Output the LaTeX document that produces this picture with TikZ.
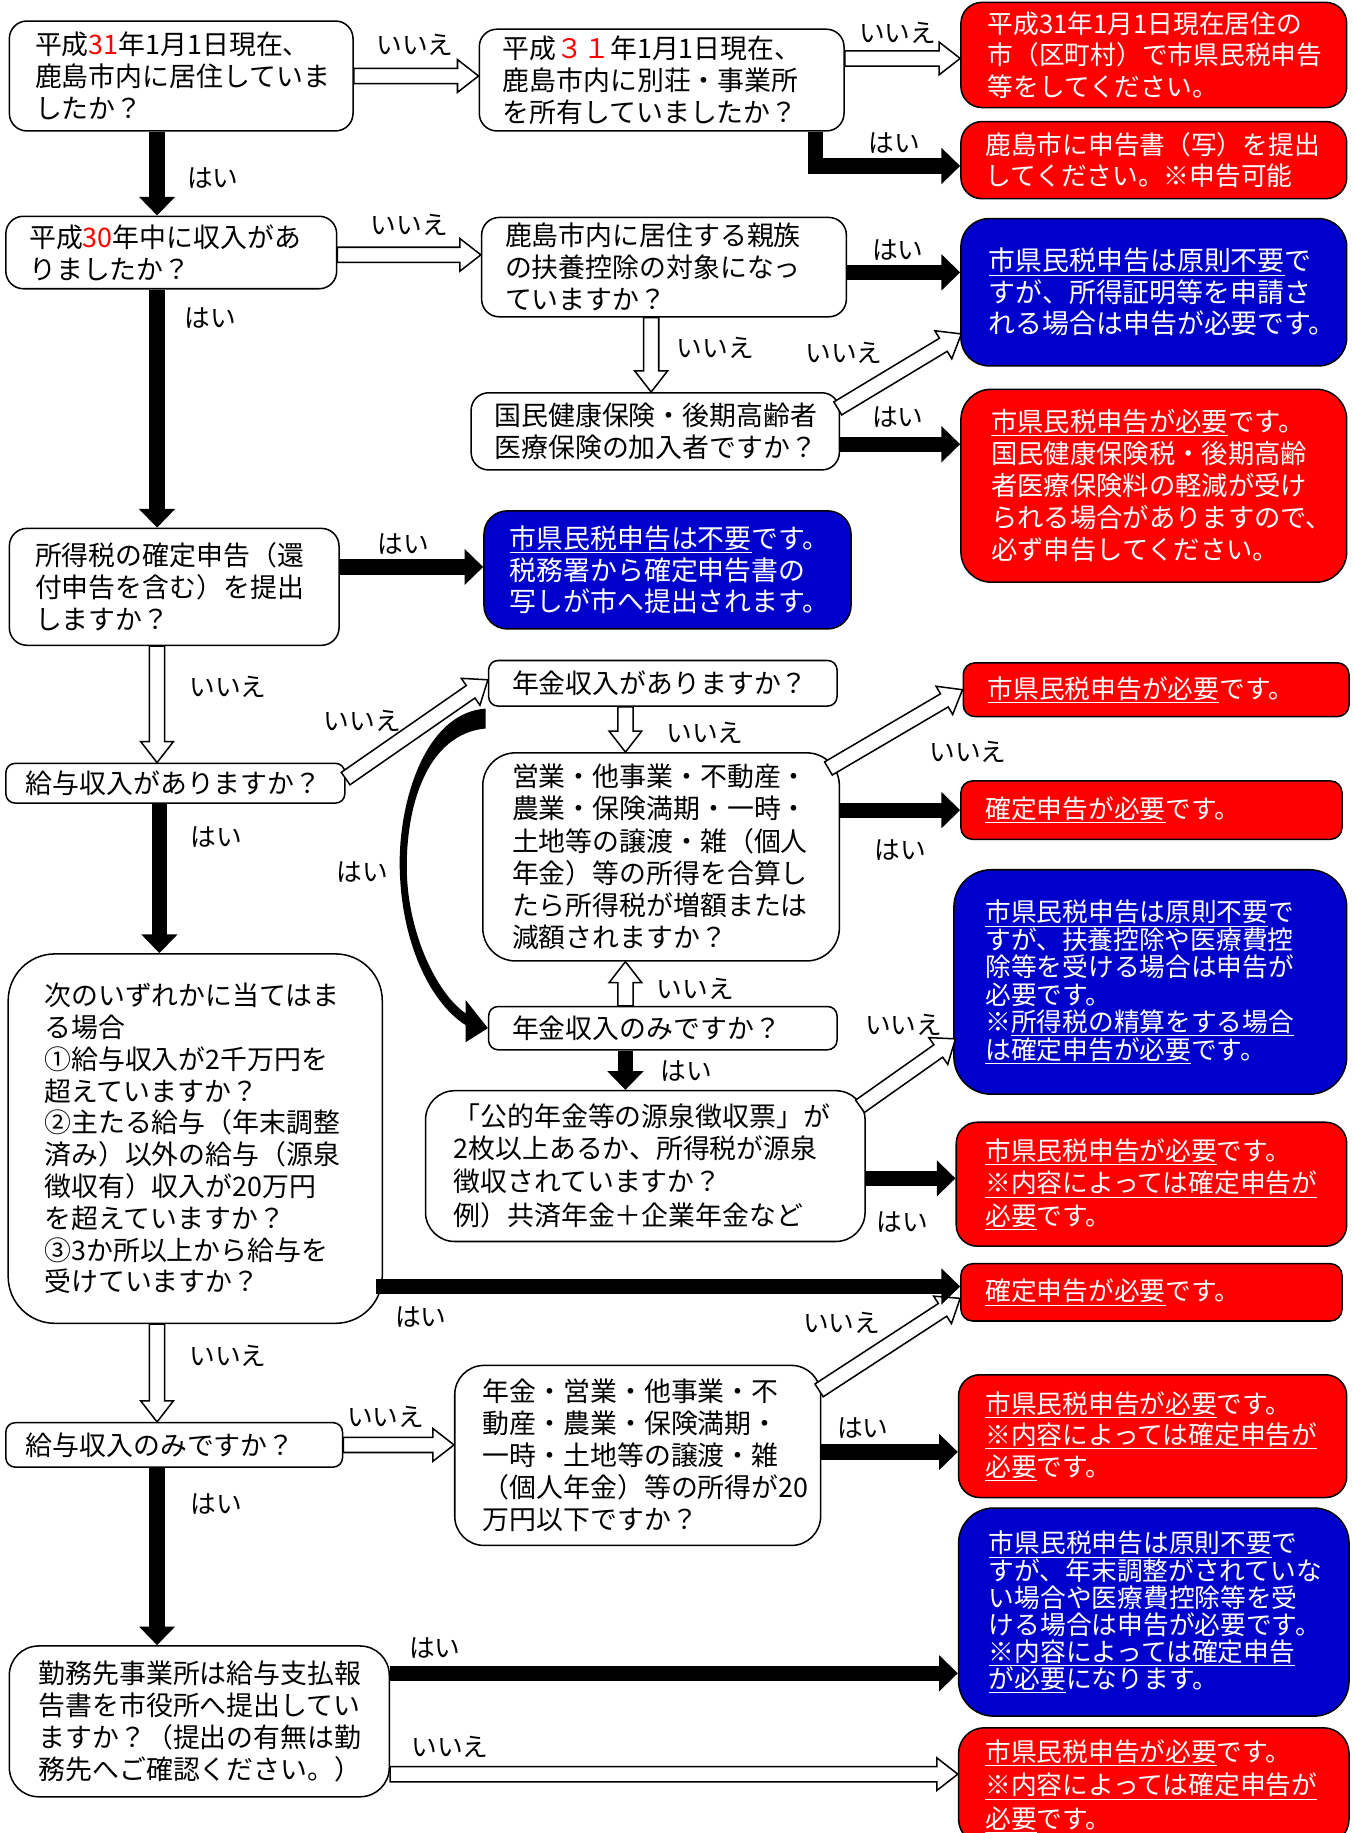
\documentclass[tikz,border=0pt]{standalone}
\usepackage{fontspec}
\setmainfont{Noto Sans CJK JP}
\usetikzlibrary{calc,arrows.meta}
\definecolor{boxred}{RGB}{255,0,0}
\definecolor{boxblue}{RGB}{0,0,204}
\newcommand\myul[1]{\underline{#1}}
\newcommand\rd[1]{{\color{red}#1}}
\hfuzz=200pt
\hbadness=10000
\newcommand\harrow[2]{%
  \draw[hollowline] ($(#1)!6.5pt!90:(#2)$) -- ($(#2)!18pt!(#1)!6.5pt!-90:(#1)$) -- ($(#2)!18pt!(#1)!14pt!-90:(#1)$) -- (#2) -- ($(#2)!18pt!(#1)!14pt!90:(#1)$) -- ($(#2)!18pt!(#1)!6.5pt!90:(#1)$) -- ($(#1)!6.5pt!-90:(#2)$) -- cycle;}
\tikzset{
  qb/.style={draw=black, fill=white, line width=1.3pt, rounded corners=15pt, align=left, inner ysep=0pt, font=\fontsize{23pt}{27.5pt}\selectfont},
  rb/.style={draw=black, fill=boxred, text=white, line width=1.3pt, rounded corners=18pt, align=left, inner ysep=0pt, font=\fontsize{22pt}{27pt}\selectfont},
  bb/.style={draw=black, fill=boxblue, text=white, line width=1.3pt, rounded corners=24pt, align=left, inner ysep=0pt, font=\fontsize{23pt}{27pt}\selectfont},
  lab/.style={inner sep=0pt, font=\fontsize{22pt}{24pt}\selectfont},
  hollowline/.style={draw=black, fill=white, line width=1.3pt, line join=miter},
  yes/.style={draw=black, line width=13pt, -{Triangle[length=16pt,width=30pt]}},
}
\begin{document}
\begin{tikzpicture}[x=1pt,y=-1pt]
\useasboundingbox (0,0) rectangle (1158,1568);
\fill[white] (0,0) rectangle (1158,1568);

% ---------- boxes ----------
\node[qb, text width=250pt, inner xsep=22pt, minimum height=94pt] (A) at (155,65) {平成\rd{31}年1月1日現在、\\鹿島市内に居住していま\\したか？};
\node[qb, text width=272pt, inner xsep=20pt, minimum height=87pt] (B) at (566,68.5) {平成\rd{３１}年1月1日現在、\\鹿島市内に別荘・事業所\\を所有していましたか？};
\node[rb, text width=284pt, inner xsep=23pt, minimum height=90pt] (R1) at (987,47) {平成31年1月1日現在居住の\\市（区町村）で市県民税申告\\等をしてください。};
\node[rb, text width=288pt, inner xsep=21pt, minimum height=66pt, font=\fontsize{22pt}{26pt}\selectfont] (R2) at (987,137) {鹿島市に申告書（写）を提出\\してください。※申告可能};
\node[qb, text width=243pt, inner xsep=20pt, minimum height=62pt] (C) at (146.5,216) {平成\rd{30}年中に収入があ\\りましたか？};
\node[qb, text width=272pt, inner xsep=20pt, minimum height=85pt] (D) at (568,228.5) {鹿島市内に居住する親族\\の扶養控除の対象になっ\\ていますか？};
\node[bb, text width=282pt, inner xsep=24pt, minimum height=126pt] (B1) at (987,250) {\myul{市県民税申告は原則不要}で\\すが、所得証明等を申請さ\\れる場合は申告が必要です。};
\node[qb, text width=275pt, inner xsep=20pt, minimum height=66pt] (E) at (560.5,369) {国民健康保険・後期高齢者\\医療保険の加入者ですか？};
\node[rb, text width=278pt, inner xsep=26pt, minimum height=165pt, rounded corners=26pt, font=\fontsize{22.5pt}{27.5pt}\selectfont] (R3) at (987,415.5) {\myul{市県民税申告が必要}です。\\国民健康保険税・後期高齢\\者医療保険料の軽減が受け\\られる場合がありますので、\\必ず申告してください。};
\node[qb, text width=238pt, inner xsep=22pt, minimum height=100pt] (F) at (149,502) {所得税の確定申告（還\\付申告を含む）を提出\\しますか？};
\node[bb, text width=270pt, inner xsep=22pt, minimum height=101pt, rounded corners=20pt] (B2) at (571,487.5) {\myul{市県民税申告は不要}です。\\税務署から確定申告書の\\写しが市へ提出されます。};
\node[qb, text width=256pt, inner xsep=17pt, minimum height=34pt, rounded corners=8pt] (G) at (150,670) {給与収入がありますか？};
\node[qb, text width=258pt, inner xsep=20pt, minimum height=39pt, rounded corners=8pt] (H) at (567,584.5) {年金収入がありますか？};
\node[qb, text width=255pt, inner xsep=25pt, minimum height=178pt, rounded corners=28pt] (I) at (565.5,733) {営業・他事業・不動産・\\農業・保険満期・一時・\\土地等の譲渡・雑（個人\\年金）等の所得を合算し\\たら所得税が増額または\\減額されますか？};
\node[rb, text width=288pt, inner xsep=21pt, minimum height=46pt, rounded corners=10pt] (R4) at (989,590) {\myul{市県民税申告が必要}です。};
\node[rb, text width=284pt, inner xsep=21pt, minimum height=50pt, rounded corners=10pt] (R5) at (985,693) {\myul{確定申告が必要}です。};
\node[qb, text width=258pt, inner xsep=20pt, minimum height=37pt, rounded corners=8pt] (J) at (567,879.5) {年金収入のみですか？};
\node[bb, text width=282pt, inner xsep=27pt, minimum height=192pt, rounded corners=32pt, font=\fontsize{22pt}{23.5pt}\selectfont] (B3) at (984,840) {\myul{市県民税申告は原則不要}で\\すが、扶養控除や医療費控\\除等を受ける場合は申告が\\必要です。\\※\myul{所得税の精算をする場合}\\\myul{は確定申告が必要}です。};
\node[qb, text width=328pt, inner xsep=24pt, minimum height=129pt, rounded corners=25pt] (K) at (552,997.5) {「公的年金等の源泉徴収票」が\\2枚以上あるか、所得税が源泉\\徴収されていますか？\\[2pt]例）共済年金＋企業年金など};
\node[rb, text width=284pt, inner xsep=25pt, minimum height=106pt, font=\fontsize{22pt}{27.5pt}\selectfont] (R6) at (985,1013) {\myul{市県民税申告が必要}です。\\\myul{※内容によっては確定申告が}\\\myul{必要}です。};
\node[qb, text width=258pt, inner xsep=31pt, minimum height=316pt, rounded corners=40pt, font=\fontsize{23pt}{27.2pt}\selectfont] (L) at (167,974) {次のいずれかに当てはま\\る場合\\①給与収入が2千万円を\\超えていますか？\\②主たる給与（年末調整\\済み）以外の給与（源泉\\徴収有）収入が20万円\\を超えていますか？\\③3か所以上から給与を\\受けていますか？};
\node[rb, text width=284pt, inner xsep=21pt, minimum height=49pt, rounded corners=10pt] (R7) at (985,1105.5) {\myul{確定申告が必要}です。};
\node[qb, text width=254pt, inner xsep=17pt, minimum height=38pt, rounded corners=8pt] (M) at (149,1236) {給与収入のみですか？};
\node[qb, text width=265pt, inner xsep=24pt, minimum height=154pt, rounded corners=25pt] (N) at (545.5,1245) {年金・営業・他事業・不\\動産・農業・保険満期・\\一時・土地等の譲渡・雑\\（個人年金）等の所得が20\\万円以下ですか？};
\node[rb, text width=286pt, inner xsep=23pt, minimum height=105pt, font=\fontsize{22pt}{27pt}\selectfont] (R8) at (986,1228.5) {\myul{市県民税申告が必要}です。\\\myul{※内容によっては確定申告が}\\\myul{必要}です。};
\node[qb, text width=275pt, inner xsep=25pt, minimum height=129pt, rounded corners=25pt] (P) at (170.5,1472.5) {勤務先事業所は給与支払報\\告書を市役所へ提出してい\\ますか？（提出の有無は勤\\務先へご確認ください。）};
\node[bb, text width=282pt, inner xsep=26pt, minimum height=178pt, rounded corners=30pt, font=\fontsize{22pt}{23.2pt}\selectfont] (B4) at (987,1379) {\myul{市県民税申告は原則不要}で\\すが、年末調整がされていな\\い場合や医療費控除等を受\\ける場合は申告が必要です。\\\myul{※内容によっては確定申告}\\\myul{が必要}になります。};
\node[rb, text width=288pt, inner xsep=23pt, minimum height=100pt, rounded corners=22pt, font=\fontsize{22pt}{29pt}\selectfont] (R9) at (987,1528) {\myul{市県民税申告が必要}です。\\\myul{※内容によっては確定申告が}\\\myul{必要}です。};

% ---------- hollow (いいえ) arrows ----------
\coordinate (h1s) at (A.east);            \coordinate (h1e) at (h1s -| B.west);
\coordinate (h2s) at ($(B.east)+(0,-18.5)$); \coordinate (h2e) at (h2s -| R1.west);
\coordinate (h3s) at ($(C.east)+(0,2)$);  \coordinate (h3e) at (h3s -| D.west);
\coordinate (h4s) at ($(D.south)+(-11,0)$); \coordinate (h4e) at (h4s |- E.north);
\coordinate (h5s) at ($(E.north east)+(-2,14)$); \coordinate (h5e) at ($(B1.south west)+(1,-28)$);
\coordinate (h6s) at ($(F.south west)+(127,0)$); \coordinate (h6e) at (h6s |- G.north);
\coordinate (h7s) at ($(G.east)+(0,-4)$); \coordinate (h7e) at ($(H.west)+(0,-3)$);
\coordinate (h8s) at ($(H.south)+(-32,0)$); \coordinate (h8e) at (h8s |- I.north);
\coordinate (h9s) at ($(I.north east)+(-10,14)$); \coordinate (h9e) at (R4.west);
\coordinate (h10s) at ($(J.north)+(-32,0)$); \coordinate (h10e) at (h10s |- I.south);
\coordinate (h11s) at ($(K.north east)+(-5,14)$); \coordinate (h11e) at ($(B3.south west)+(2,-48)$);
\coordinate (h12s) at ($(L.south west)+(128,0)$); \coordinate (h12e) at (h12s |- M.north);
\coordinate (h13s) at (M.east); \coordinate (h13e) at (h13s -| N.west);
\coordinate (h14s) at ($(N.north east)+(-2,22)$); \coordinate (h14e) at ($(R7.south west)+(0,-20)$);
\coordinate (h15s) at ($(P.south east)+(0,-20)$); \coordinate (h15e) at (h15s -| R9.west);
\harrow{h1s}{h1e}
\harrow{h2s}{h2e}
\harrow{h3s}{h3e}
\harrow{h4s}{h4e}
\harrow{h5s}{h5e}
\harrow{h6s}{h6e}
\harrow{h7s}{h7e}
\harrow{h8s}{h8e}
\harrow{h9s}{h9e}
\harrow{h10s}{h10e}
\harrow{h11s}{h11e}
\harrow{h12s}{h12e}
\harrow{h13s}{h13e}
\harrow{h14s}{h14e}
\harrow{h15s}{h15e}

% ---------- black (はい) arrows ----------
\coordinate (b1s) at ($(A.south west)+(127,0)$);
\draw[yes] (b1s) -- (b1s |- C.north);
\coordinate (b2s) at ($(B.south east)+(-25,0)$);
\draw[yes] (b2s) |- ($(R2.west)+(0,5)$);
\coordinate (b3s) at ($(D.east)+(0,4.5)$);
\draw[yes] (b3s) -- (b3s -| B1.west);
\coordinate (b4s) at ($(E.east)+(0,11)$);
\draw[yes] (b4s) -- (b4s -| R3.west);
\coordinate (b5s) at ($(C.south west)+(130,0)$);
\draw[yes] (b5s) -- (b5s |- F.north);
\coordinate (b6s) at ($(F.east)+(0,-17)$);
\draw[yes] (b6s) -- (b6s -| B2.west);
\coordinate (b7s) at ($(G.south west)+(132,0)$);
\draw[yes] (b7s) -- (b7s |- L.north);
\coordinate (b8s) at (I.east |- R5.west);
\draw[yes] (b8s) -- (R5.west);
\coordinate (b9s) at ($(J.south)+(-32,0)$);
\draw[yes] (b9s) -- (b9s |- K.north);
\coordinate (b10s) at ($(K.east)+(0,10.5)$);
\draw[yes] (b10s) -- (b10s -| R6.west);
\coordinate (b11s) at ($(L.east |- R7.west)+(-6,-5)$);
\draw[yes] (b11s) -- (b11s -| R7.west);
\coordinate (b12s) at ($(N.east)+(0,-3)$);
\draw[yes] (b12s) -- (b12s -| R8.west);
\coordinate (b13s) at ($(M.south west)+(130,0)$);
\draw[yes] (b13s) -- (b13s |- P.north);
\coordinate (b14s) at ($(P.north east)+(0,24)$);
\draw[yes] (b14s) -- (b14s -| B4.west);

% curved はい arrow from 年金収入がありますか？ to 年金収入のみですか？
\coordinate (c1) at ($(H.south west)+(-2,1.5)$);
\coordinate (c2) at ($(H.south west)+(-2,18.5)$);
\coordinate (c3) at ($(J.west)+(-18,-2)$);
\coordinate (c4) at ($(J.west)+(-18,-12)$);
\fill[black] (c1) .. controls (362,610) and (340,690) .. (342,745) .. controls (344,810) and (370,860) .. (c3) -- (c4) .. controls (375,852) and (349,800) .. (348,745) .. controls (347,690) and (365,628) .. (c2) -- cycle;
\fill[black] ($(J.west)+(-19,-24)$) -- (J.west) -- ($(J.west)+(-19,12)$) -- cycle;

% ---------- labels ----------
\node[lab] (l1) at (355,38) {いいえ};
\node[lab] (l2) at (768,28) {いいえ};
\node[lab] (l3) at (765,122) {はい};
\node[lab] (l4) at (182,152) {はい};
\node[lab] (l5) at (350,192) {いいえ};
\node[lab] (l6) at (768,214) {はい};
\node[lab] (l7) at (612,298) {いいえ};
\node[lab] (l8) at (722,302) {いいえ};
\node[lab] (l9) at (768,357) {はい};
\node[lab] (l10) at (180,272) {はい};
\node[lab] (l11) at (345,465) {はい};
\node[lab] (l12) at (195,588) {いいえ};
\node[lab] (l13) at (310,617) {いいえ};
\node[lab] (l14) at (185,716) {はい};
\node[lab] (l15) at (603,627) {いいえ};
\node[lab] (l16) at (828,643) {いいえ};
\node[lab] (l17) at (770,727) {はい};
\node[lab] (l18) at (310,746) {はい};
\node[lab] (l19) at (595,846) {いいえ};
\node[lab] (l20) at (587,916) {はい};
\node[lab] (l21) at (773,877) {いいえ};
\node[lab] (l22) at (772,1045) {はい};
\node[lab] (l23) at (360,1127) {はい};
\node[lab] (l24) at (195,1160) {いいえ};
\node[lab] (l25) at (720,1132) {いいえ};
\node[lab] (l26) at (330,1212) {いいえ};
\node[lab] (l27) at (738,1222) {はい};
\node[lab] (l28) at (185,1287) {はい};
\node[lab] (l29) at (372,1410) {はい};
\node[lab] (l30) at (385,1494) {いいえ};
\end{tikzpicture}
\end{document}
